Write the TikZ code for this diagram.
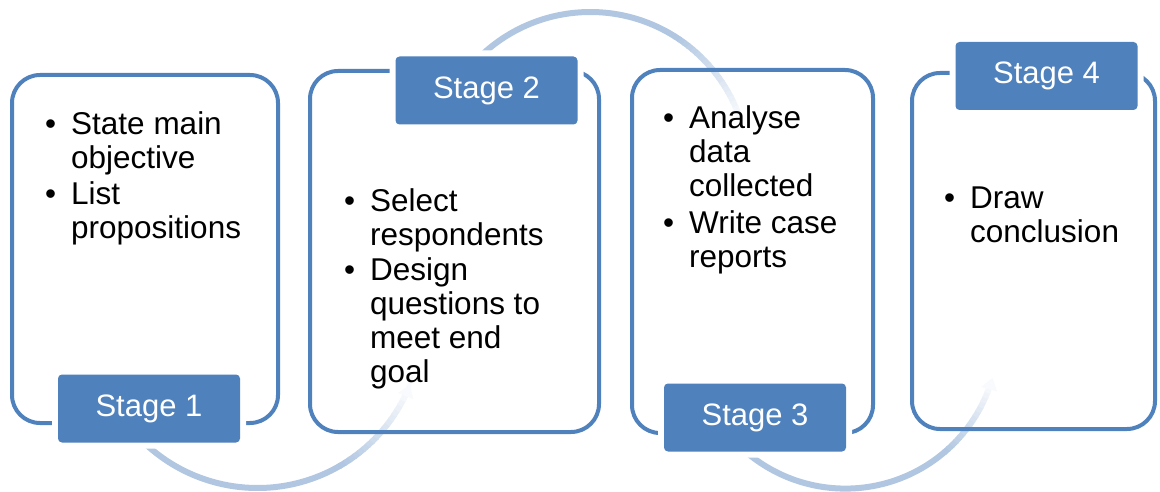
\documentclass[tikz,border=0pt]{standalone}
\usepackage{fontspec}
\setmainfont{Liberation Sans}
\usetikzlibrary{arrows.meta}
\definecolor{accent}{HTML}{4F81BD}
\colorlet{sweep}{accent!45!white}
\newcommand{\itemdot}{\llap{\textbullet\hspace{15pt}}}

\begin{document}
\begin{tikzpicture}[x=1pt,y=1pt,
  box/.style={draw=accent, line width=4pt, rounded corners=28pt},
  stage/.style={fill=accent, text=white, rounded corners=4pt, inner sep=0pt,
    minimum width=182pt, minimum height=68pt, font=\fontsize{31}{36}\selectfont,
    preaction={draw=white, line width=12pt}},
  points/.style={anchor=base west, align=left, inner sep=0pt, font=\fontsize{31.5}{34}\selectfont},
  sweepline/.style={line width=6pt}]
\useasboundingbox (0,0) rectangle (1160,491);
\coordinate (c1) at (257.5,167.4);
\coordinate (c2) at (590.3,320.4);
\coordinate (c3) at (845.4,155.4);
% sweeps behind the boxes
\draw [sweepline, color=sweep] ([shift={(222:164.4)}]c1) arc[start angle=222, end angle=300.5, radius=164.4];
\foreach \i in {0,...,16} {
  \pgfmathsetmacro{\aa}{300+2*\i}
  \pgfmathsetmacro{\pc}{100-5.4*\i}
  \draw [sweepline, color=sweep!\pc!white] ([shift={(\aa:164.4)}]c1) arc[start angle=\aa, end angle=\aa+2.5, radius=164.4];
}
\draw [sweepline, color=sweep!8!white, -{Triangle[length=12pt,width=16pt]}] ([shift={(334:164.4)}]c1) arc[start angle=334, end angle=338.1, radius=164.4];
\draw [sweepline, color=sweep] ([shift={(140:158.6)}]c2) arc[start angle=140, end angle=57.5, radius=158.6];
\foreach \i in {0,...,18} {
  \pgfmathsetmacro{\aa}{58-2*\i}
  \pgfmathsetmacro{\pc}{100-5*\i}
  \draw [sweepline, color=sweep!\pc!white] ([shift={(\aa:158.6)}]c2) arc[start angle=\aa, end angle=\aa-2.5, radius=158.6];
}
\draw [sweepline, color=sweep] ([shift={(225:153)}]c3) arc[start angle=225, end angle=310.5, radius=153];
\foreach \i in {0,...,14} {
  \pgfmathsetmacro{\aa}{310+2*\i}
  \pgfmathsetmacro{\pc}{100-6.2*\i}
  \draw [sweepline, color=sweep!\pc!white] ([shift={(\aa:153)}]c3) arc[start angle=\aa, end angle=\aa+2.5, radius=153];
}
\draw [sweepline, color=sweep!8!white, -{Triangle[length=12pt,width=16pt]}] ([shift={(340:153)}]c3) arc[start angle=340, end angle=344, radius=153];
% boxes
\draw [box] (12,68) rectangle (278,416);
\draw [box] (310,59) rectangle (599,420);
\draw [box] (632,58) rectangle (873,421);
\draw [box] (912,62) rectangle (1155,418);
% stage labels
\node [stage] (s1) at (149,82.5) {Stage 1};
\node [stage] (s2) at (486.5,400.5) {Stage 2};
\node [stage] (s3) at (755,73.5) {Stage 3};
\node [stage] (s4) at (1046.5,415) {Stage 4};
% bullet texts, placed by their last line
\node [points] (t1) at (71,253) {\itemdot State main\\ objective\\[1pt] \itemdot List\\ propositions};
\node [points] (t2) at (370,109) {\itemdot Select\\ respondents\\[1pt] \itemdot Design\\ questions to\\ meet end\\ goal};
\node [points] (t3) at (689,224) {\itemdot Analyse\\ data\\ collected\\[3pt] \itemdot Write case\\ reports};
\node [points] (t4) at (970,249) {\itemdot Draw\\ conclusion};
\end{tikzpicture}
\end{document}
